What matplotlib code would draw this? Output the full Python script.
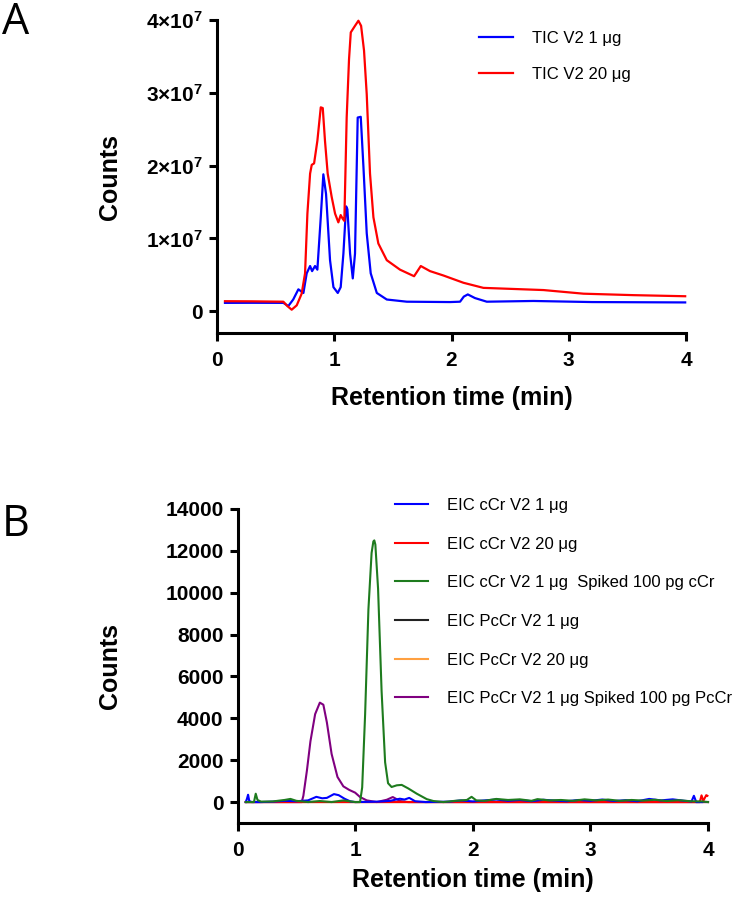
import numpy as np
import matplotlib
matplotlib.use("Agg")
import matplotlib.pyplot as plt

plt.rcParams['font.family'] = ['Liberation Sans', 'DejaVu Sans']
plt.rcParams['mathtext.fontset'] = 'custom'
plt.rcParams['mathtext.bf'] = 'Liberation Sans:bold'
plt.rcParams['mathtext.rm'] = 'Liberation Sans:bold'
plt.rcParams['mathtext.default'] = 'bf'

# ---- panel A: TIC (counts in units of 1e7) ----
tic1_t = [0.068, 0.3, 0.566, 0.608, 0.65, 0.694, 0.737, 0.765, 0.794, 0.811, 0.836, 0.856,
          0.885, 0.907, 0.930, 0.964, 0.993, 1.030, 1.055, 1.078, 1.101, 1.112,
          1.135, 1.158, 1.177, 1.200, 1.226, 1.249, 1.277, 1.311, 1.363, 1.448,
          1.619, 1.988, 2.073, 2.105, 2.139, 2.20, 2.301, 2.699, 3.2, 3.993]
tic1_v = [0.114, 0.115, 0.114, 0.07, 0.16, 0.30, 0.25, 0.52, 0.62, 0.55, 0.62, 0.57,
          1.29, 1.88, 1.61, 0.70, 0.33, 0.25, 0.33, 0.79, 1.44, 1.40,
          0.79, 0.45, 0.79, 2.66, 2.67, 1.98, 1.07, 0.52, 0.25, 0.16,
          0.13, 0.125, 0.13, 0.20, 0.23, 0.18, 0.13, 0.14, 0.125, 0.12]

tic20_t = [0.068, 0.3, 0.566, 0.600, 0.637, 0.680, 0.722, 0.751, 0.771, 0.794, 0.808,
           0.828, 0.856, 0.885, 0.902, 0.921, 0.944, 0.978, 1.007, 1.035, 1.055,
           1.072, 1.086, 1.106, 1.126, 1.141, 1.177, 1.206, 1.229, 1.254, 1.277,
           1.305, 1.334, 1.376, 1.448, 1.561, 1.681, 1.738, 1.817, 1.931, 2.102,
           2.272, 2.784, 3.126, 3.552, 3.993]
tic20_v = [0.137, 0.135, 0.13, 0.07, 0.02, 0.08, 0.24, 0.52, 1.34, 1.89, 2.01,
           2.03, 2.34, 2.80, 2.79, 2.34, 1.89, 1.57, 1.34, 1.22, 1.32,
           1.27, 1.24, 2.66, 3.46, 3.83, 3.92, 3.99, 3.92, 3.58, 2.98,
           1.89, 1.29, 0.93, 0.70, 0.57, 0.48, 0.62, 0.55, 0.49, 0.39,
           0.32, 0.29, 0.24, 0.22, 0.205]

# ---- panel B: EIC ----
eic_blue_t = [0.07, 0.08, 0.09, 0.10, 0.12, 0.2, 0.3, 0.4, 0.5, 0.6, 0.67, 0.72, 0.76,
              0.82, 0.86, 0.91, 0.96, 1.0, 1.2, 1.3, 1.38, 1.42, 1.46, 1.51, 1.6, 1.8,
              1.9, 2.0, 2.1, 2.2, 2.3, 2.4, 2.5, 2.6, 2.7, 2.8, 2.9, 3.0, 3.1, 3.2,
              3.3, 3.4, 3.5, 3.6, 3.7, 3.8, 3.86, 3.88, 3.90, 3.95]
eic_blue_v = [0, 150, 350, 50, 0, 0, 20, 60, 40, 80, 250, 180, 200,
              380, 330, 160, 30, 0, 20, 60, 160, 120, 200, 40, 0, 20,
              80, 30, 80, 120, 60, 100, 40, 110, 70, 40, 100, 60, 120, 50,
              90, 40, 150, 80, 130, 60, 30, 300, 0, 0]

eic_red_t = [0.07, 0.5, 1.0, 1.5, 2.0, 2.5, 3.0, 3.5, 3.93, 3.945, 3.96, 3.985, 3.995]
eic_red_v = [0, 0, 0, 0, 0, 0, 0, 0, 0, 320, 60, 330, 300]

eic_green_t = [0.07, 0.14, 0.155, 0.17, 0.2, 0.3, 0.4, 0.45, 0.5, 0.55, 0.6, 0.7, 0.8,
               0.9, 1.0, 1.042, 1.06, 1.085, 1.113, 1.14, 1.155, 1.163, 1.172, 1.195,
               1.225, 1.255, 1.28, 1.31, 1.354, 1.396, 1.452, 1.524, 1.609, 1.665, 1.75,
               1.85, 1.95, 1.99, 2.03, 2.1, 2.2, 2.3, 2.4, 2.5, 2.55, 2.65, 2.75,
               2.85, 2.95, 3.05, 3.15, 3.25, 3.35, 3.45, 3.55, 3.65, 3.75, 3.85,
               3.95, 4.0]
eic_green_v = [0, 0, 400, 100, 20, 30, 100, 150, 60, 30, 0, 50, 0,
               80, 0, 0, 700, 4200, 9200, 11900, 12450, 12500, 12300, 10200,
               5300, 1900, 900, 720, 800, 820, 650, 400, 140, 50, 0,
               60, 100, 250, 80, 60, 150, 100, 130, 60, 140, 80, 100,
               60, 130, 80, 120, 60, 100, 70, 110, 50, 90, 40,
               30, 0]

eic_black_t = [0.07, 4.0]
eic_black_v = [0, 0]
eic_orange_t = [0.07, 4.0]
eic_orange_v = [0, 0]

eic_purple_t = [0.07, 0.546, 0.56, 0.59, 0.62, 0.66, 0.70, 0.73, 0.76, 0.80, 0.85,
                0.90, 0.95, 1.0, 1.042, 1.099, 1.184, 1.269, 1.320, 1.382, 1.45, 4.0]
eic_purple_v = [0, 0, 300, 1500, 2900, 4200, 4750, 4650, 3800, 2300, 1200,
                750, 580, 450, 240, 80, 0, 110, 240, 50, 0, 0]

labels_a = ['TIC V2 1 \u03bcg', 'TIC V2 20 \u03bcg']
labels_b = ['EIC cCr V2 1 \u03bcg', 'EIC cCr V2 20 \u03bcg',
            'EIC cCr V2 1 \u03bcg  Spiked 100 pg cCr', 'EIC PcCr V2 1 \u03bcg',
            'EIC PcCr V2 20 \u03bcg', 'EIC PcCr V2 1 \u03bcg Spiked 100 pg PcCr']
yticks_a = [0, 1, 2, 3, 4]
yticklabels_a = ['0', '1\u00d710$^7$', '2\u00d710$^7$', '3\u00d710$^7$', '4\u00d710$^7$']
yticks_b = [0, 2000, 4000, 6000, 8000, 10000, 12000, 14000]
xticks = [0, 1, 2, 3, 4]

W, H = 739, 900
fig = plt.figure(figsize=(W / 100, H / 100), dpi=100)


def style(ax):
    for s in ['top', 'right']:
        ax.spines[s].set_visible(False)
    for s in ['left', 'bottom']:
        ax.spines[s].set_linewidth(2.2)
    ax.tick_params(axis='both', length=6, width=2.2, labelsize=15)
    ax.tick_params(axis='x', pad=7)
    ax.tick_params(axis='y', pad=4)
    for lab in ax.get_xticklabels() + ax.get_yticklabels():
        lab.set_fontweight('bold')


# panel A
axA = fig.add_axes([217 / W, 1 - 333 / H, 469 / W, 313 / H])
axA.plot(tic1_t, tic1_v, color='#0000ff', lw=1.6, zorder=3, clip_on=False, label=labels_a[0])
axA.plot(tic20_t, tic20_v, color='#ff0000', lw=1.6, zorder=4, clip_on=False, label=labels_a[1])
axA.set_xlim(0, 4)
axA.set_ylim(-0.3, 4)
axA.set_xticks(xticks)
axA.set_yticks(yticks_a)
axA.set_yticklabels(yticklabels_a)
style(axA)
axA.set_xlabel('Retention time (min)', fontsize=18, fontweight='bold')
axA.set_ylabel('Counts', fontsize=18, fontweight='bold')
axA.xaxis.set_label_coords(0.5, -0.169)
axA.yaxis.set_label_coords(-0.2026, 0.5)
axA.legend(loc='upper left', bbox_to_anchor=(479 / W, 1 - 31 / H),
           bbox_transform=fig.transFigure, frameon=False, fontsize=12,
           handlelength=2.05, handletextpad=1.1, labelspacing=1.24,
           borderpad=0, borderaxespad=0)

# panel B
axB = fig.add_axes([237.5 / W, 1 - 823 / H, 470.5 / W, 314 / H])
lb = []
lb.append(axB.plot(eic_blue_t, eic_blue_v, color='#0000ff', lw=1.5, zorder=5, clip_on=False)[0])
lb.append(axB.plot(eic_red_t, eic_red_v, color='#ff0000', lw=1.5, zorder=4, clip_on=False)[0])
lb.append(axB.plot(eic_green_t, eic_green_v, color='#1e7b1e', lw=1.5, zorder=6, clip_on=False)[0])
lb.append(axB.plot(eic_black_t, eic_black_v, color='#222222', lw=1.5, zorder=2, clip_on=False)[0])
lb.append(axB.plot(eic_orange_t, eic_orange_v, color='#ffa040', lw=1.5, zorder=2, clip_on=False)[0])
lb.append(axB.plot(eic_purple_t, eic_purple_v, color='#800080', lw=1.5, zorder=3, clip_on=False)[0])
axB.set_xlim(0, 4)
axB.set_ylim(-1000, 14000)
axB.set_xticks(xticks)
axB.set_yticks(yticks_b)
style(axB)
axB.set_xlabel('Retention time (min)', fontsize=18, fontweight='bold')
axB.set_ylabel('Counts', fontsize=18, fontweight='bold')
axB.xaxis.set_label_coords(0.5, -0.143)
axB.yaxis.set_label_coords(-0.2455, 0.5)
axB.legend(lb, labels_b, loc='upper left', bbox_to_anchor=(395 / W, 1 - 498 / H),
           bbox_transform=fig.transFigure, frameon=False, fontsize=12,
           handlelength=2.0, handletextpad=1.1, labelspacing=1.42,
           borderpad=0, borderaxespad=0)

fig.text(2 / W, 1 - 0 / H, 'A', fontsize=31, va='top', ha='left', family=['Open Sans', 'DejaVu Sans'])
fig.text(2 / W, 1 - 503 / H, 'B', fontsize=31, va='top', ha='left', family=['Open Sans', 'DejaVu Sans'])

fig.savefig('out.png', dpi=100)
